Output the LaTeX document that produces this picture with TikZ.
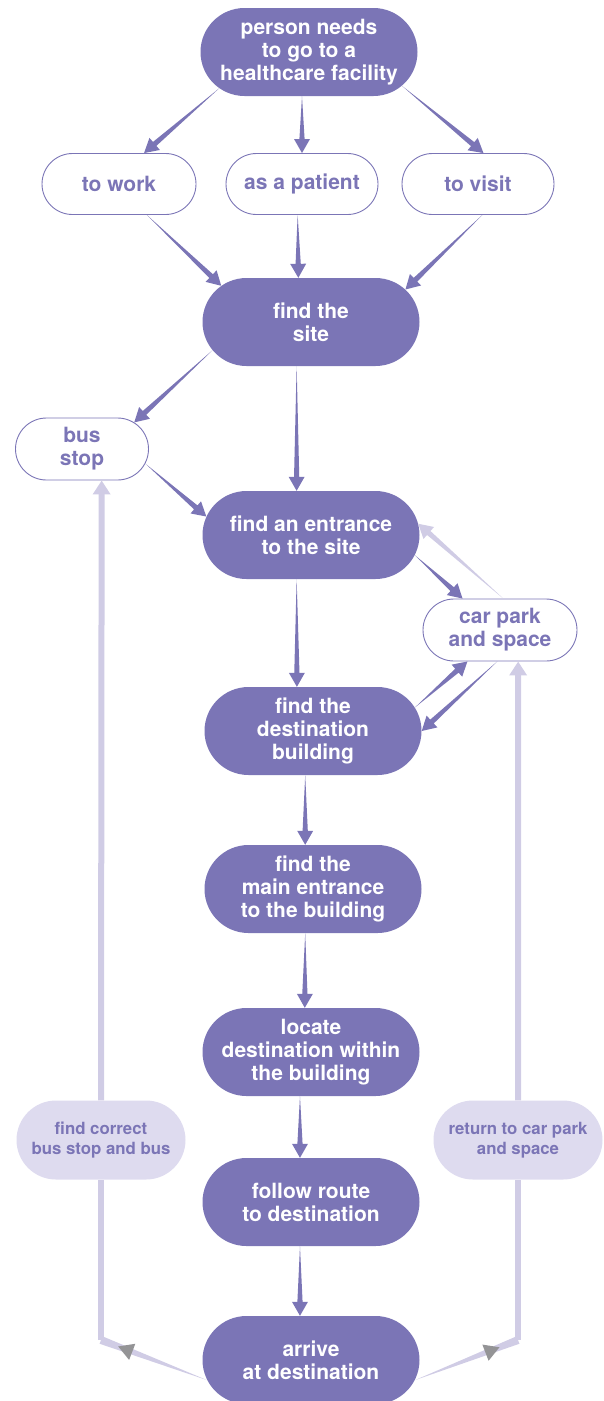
\documentclass[tikz,border=0pt]{standalone}
\usepackage{fontspec}
\setmainfont{TeX Gyre Heros}
\usetikzlibrary{arrows.meta, calc, shapes.misc, shapes.geometric}

\definecolor{purp}{RGB}{123,117,182}
\definecolor{lilac}{RGB}{222,219,239}
\definecolor{lilacline}{RGB}{208,204,229}
\definecolor{tipgray}{RGB}{148,148,150}

\begin{document}
\begin{tikzpicture}[
		x=1pt, y=1pt, node distance=150pt,
		bigstep/.style={rounded rectangle, fill=purp, text=white, align=center,
			font=\bfseries\fontsize{21}{23}\selectfont,
			minimum width=217pt, minimum height=88pt, inner sep=0pt},
		choice/.style={rounded rectangle, draw=purp, line width=0.9pt, text=purp, align=center,
			font=\bfseries\fontsize{21}{23}\selectfont,
			minimum width=152pt, minimum height=61pt, inner sep=0pt},
		backstep/.style={rounded rectangle, fill=lilac, text=purp, align=center,
			font=\bfseries\fontsize{16.8}{20}\selectfont,
			minimum width=169pt, minimum height=79pt, inner sep=0pt},
		taper/.style={to path={
			-- ($(\tikztotarget)!14pt!(\tikztostart)!2.6pt!90:(\tikztotarget)$)
			-- ($(\tikztotarget)!14pt!(\tikztostart)!8pt!90:(\tikztotarget)$)
			-- (\tikztotarget)
			-- ($(\tikztotarget)!14pt!(\tikztostart)!8pt!-90:(\tikztotarget)$)
			-- ($(\tikztotarget)!14pt!(\tikztostart)!2.6pt!-90:(\tikztotarget)$)
			-- cycle}},
		wedge/.style={to path={
			-- ($(\tikztotarget)!4pt!90:(\tikztostart)$)
			-- ($(\tikztotarget)!4pt!-90:(\tikztostart)$)
			-- cycle}},
		backline/.style={draw=lilacline, line width=6pt},
		backtip/.style={-{Triangle[length=14pt, width=17pt]}},
		graytip/.style={regular polygon, regular polygon sides=3, fill=tipgray,
			minimum size=20pt, inner sep=0pt}
		]
		\useasboundingbox (0,0) rectangle (604,-1401);

		\node[bigstep](need) at (309,-52){person needs\\to go to a\\healthcare facility};
		\node[choice, below of = need, xshift = -7pt, yshift = 18pt](patient){as a patient};
		\node[choice, left of = patient, xshift = -33pt, minimum width = 154pt](work){to work};
		\node[choice, right of = patient, xshift = 26pt](visit){to visit};
		\node[bigstep, below of = patient, xshift = 9pt, yshift = 12pt](site){find the\\site};
		\node[bigstep, below of = site, yshift = -63pt](entrance){find an entrance\\to the site};
		\node[choice, left of = entrance, xshift = -79pt, yshift = 86pt,
			minimum width = 133pt, minimum height = 62pt](bus){bus\\stop};
		\node[choice, right of = entrance, xshift = 39pt, yshift = -95pt,
			minimum width = 154pt, minimum height = 62pt](carpark){car park\\and space};
		\node[bigstep, below of = entrance, xshift = 2pt, yshift = -46pt](dest){find the\\destination\\building};
		\node[bigstep, below of = dest, yshift = -8pt](mainentr){find the\\main entrance\\to the building};
		\node[bigstep, below of = mainentr, xshift = -2pt, yshift = -13pt](locate){locate\\destination within\\the building};
		\node[bigstep, below of = locate](follow){follow route\\to destination};
		\node[bigstep, below of = follow, yshift = -8pt](arrive){arrive\\at destination};
		\node[backstep, left of = follow, xshift = -60pt, yshift = 62pt](busfind){find correct\\bus stop and bus};
		\node[backstep, right of = follow, xshift = 57pt, yshift = 62pt](carfind){return to car park\\and space};
		\coordinate[below of = busfind, yshift = -50pt](cornerL);
		\coordinate[below of = carfind, yshift = -50pt](cornerR);

		% forward steps
		\fill[purp] (need.202) to[taper] (work.51);
		\fill[purp] (need.261) to[taper] (patient.90);
		\fill[purp] (need.340) to[taper] (visit.80);
		\fill[purp] (work.312) to[taper] (site.158);
		\fill[purp] (patient.262) to[taper] (site.106);
		\fill[purp] (visit.278) to[taper] (site.19);
		\fill[purp] (site.196) to[taper] (bus.27);
		\fill[purp] (bus.347) to[taper] (entrance.170);
		\fill[purp] (site.252) to[taper] (entrance.108);
		\fill[purp] (entrance.349) to[taper] (carpark.140);
		\fill[purp] (entrance.252) to[taper] (dest.110);
		\fill[purp] (dest.13) to[taper] (carpark.224);
		\fill[purp] (carpark.265) to[taper] (dest.0);
		\fill[purp] (dest.260) to[taper] (mainentr.100);
		\fill[purp] (mainentr.260) to[taper] (locate.98);
		\fill[purp] (locate.256) to[taper] (follow.104);
		\fill[purp] (follow.256) to[taper] (arrive.104);

		% ways back
		\fill[lilacline] (carpark.84) to[taper] (entrance.6);
		\fill[lilacline] (arrive.191) to[wedge] (cornerL);
		\fill[lilacline] (arrive.349) to[wedge] (cornerR);
		\draw[backline] (cornerL) -- (busfind.south);
		\draw[backline] (cornerR) -- (carfind.south);
		\draw[backline, backtip] (busfind.north) -- (bus.302);
		\draw[backline, backtip] (carfind.north) -- (carpark.300);
		\path (arrive.191) -- node[pos=0.75, graytip, shape border rotate=189]{} (cornerL);
		\path (arrive.349) -- node[pos=0.73, graytip, shape border rotate=171]{} (cornerR);

	\end{tikzpicture}
\end{document}
